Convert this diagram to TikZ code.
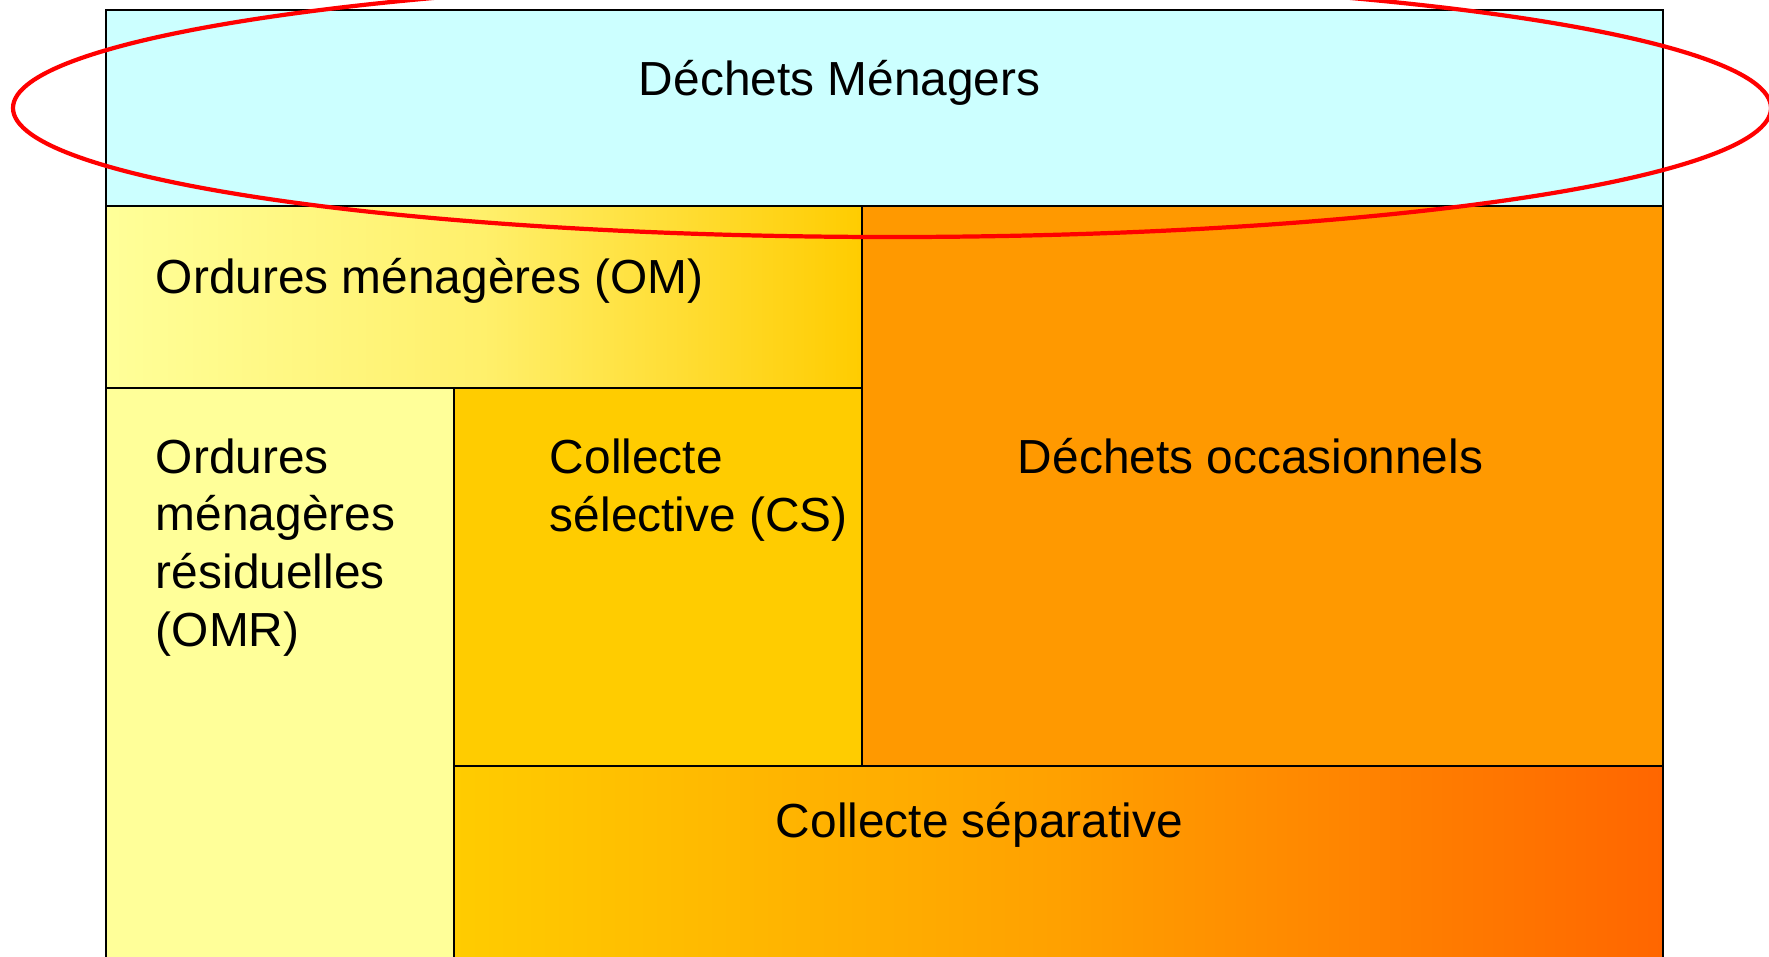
\documentclass[tikz,border=0pt]{standalone}
\usepackage{fontspec}
\setmainfont{Liberation Sans}
\usetikzlibrary{positioning}

\definecolor{bleuclair}{HTML}{CCFFFF}
\definecolor{jaunepale}{HTML}{FFFF99}
\definecolor{jauneor}{HTML}{FFCC00}
\definecolor{orange1}{HTML}{FF9900}
\definecolor{orange2}{HTML}{FF6600}

\begin{document}
\begin{tikzpicture}[x=0.01cm, y=-0.01cm, line width=0.55pt,
  zonetext/.style={inner sep=0pt, font=\fontsize{13.6}{16.4}\selectfont}]
\clip (0,0) rectangle (1769,956);

% fonds
\fill[bleuclair] (106,10) rectangle (1663,206);
\shade[left color=jaunepale, right color=jauneor, middle color=jaunepale!70!jauneor] (106,206) rectangle (862,388);
\fill[jaunepale] (106,388) rectangle (454,980);
\fill[jauneor] (454,388) rectangle (862,766);
\fill[orange1] (862,206) rectangle (1663,766);
\shade[left color=jauneor, right color=orange2, middle color=orange1!85!jauneor] (454,766) rectangle (1663,980);

% traits
\draw (106,10) rectangle (1663,980);
\draw (106,206) -- (1663,206);
\draw (106,388) -- (862,388);
\draw (862,206) -- (862,766);
\draw (454,388) -- (454,980);
\draw (454,766) -- (1663,766);

% textes
\node[zonetext, anchor=base west] (menagers) at (638,95) {Déchets Ménagers};
\node[zonetext, anchor=base west] (om) at (155,293) {Ordures ménagères (OM)};
\node[zonetext, anchor=base west, align=left] (omr) at (155,646) {Ordures\\ménagères\\résiduelles\\(OMR)};
\node[zonetext, anchor=base west, align=left] (cs) at (549,531) {Collecte\\sélective (CS)};
\node[zonetext, anchor=base west] (occasionnels) at (1017,473) {Déchets occasionnels};
\node[zonetext, anchor=base west] (separative) at (775,837) {Collecte séparative};

% ellipse
\draw[red, line width=1.2pt] (892,108) ellipse [x radius=879, y radius=129];
\end{tikzpicture}
\end{document}
